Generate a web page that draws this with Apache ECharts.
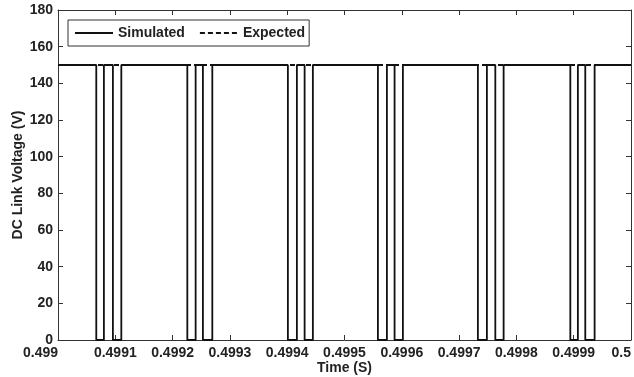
<!DOCTYPE html>
<html>
<head>
<meta charset="utf-8">
<script src="https://cdn.jsdelivr.net/npm/echarts@6/dist/echarts.min.js"></script>
<style>
  html, body { margin: 0; padding: 0; background: #fff; }
  #chart { width: 634px; height: 377px; }
</style>
</head>
<body>
<div id="chart"></div>
<script>
// time window and levels
const tStart = 0.499;
const tEnd = 0.5;
const vHigh = 150;
const vLow = 0;
const expectedLevel = 150;

// switching dips (seconds)
const dipStarts = [
  0.4990668, 0.4990958,
  0.4992257, 0.4992529,
  0.4994012, 0.4994304,
  0.4995583, 0.4995874,
  0.4997328, 0.4997632,
  0.4998941, 0.4999202,
];
const dipEnds = [
  0.4990801, 0.4991105,
  0.4992402, 0.4992693,
  0.4994169, 0.4994448,
  0.4995740, 0.4996019,
  0.4997485, 0.4997777,
  0.4999073, 0.4999365,
];

const yTicks = [0, 20, 40, 60, 80, 100, 120, 140, 160, 180];

// step trace built from the edges
const simulated = [[tStart, vHigh]];
dipStarts.forEach((s, i) => {
  simulated.push([s, vHigh], [s, vLow], [dipEnds[i], vLow], [dipEnds[i], vHigh]);
});
simulated.push([tEnd, vHigh]);

const expected = [[tStart, expectedLevel], [tEnd, expectedLevel]];

const font = "Liberation Sans, Arial, sans-serif";
const txt = { fontFamily: font, fontSize: 14, fontWeight: "bold", color: "#222" };
const chart = echarts.init(document.getElementById("chart"));

const fmtX = (v) => parseFloat(v.toFixed(4)).toString();

const baseX = {
  type: "value",
  min: tStart,
  max: tEnd,
  interval: 0.0001,
  axisLine: { show: true, onZero: false, lineStyle: { color: "#333", width: 1 } },
  axisTick: { show: true, inside: true, length: 5, lineStyle: { color: "#333" } },
  splitLine: { show: false },
};
const baseY = {
  type: "value",
  min: yTicks[0],
  max: yTicks[yTicks.length - 1],
  interval: 20,
  axisLine: { show: true, onZero: false, lineStyle: { color: "#333", width: 1 } },
  axisTick: { show: true, inside: true, length: 5, lineStyle: { color: "#333" } },
  splitLine: { show: false },
};

chart.setOption({
  animation: false,
  backgroundColor: "#fff",
  grid: { left: 58, right: 3, top: 10, bottom: 37, outerBoundsMode: "none", containLabel: false },
  legend: {
    left: 68,
    top: 20,
    itemWidth: 38,
    itemHeight: 2,
    itemGap: 14,
    padding: [6, 4, 6, 6],
    borderColor: "#333",
    borderWidth: 1,
    backgroundColor: "#fff",
    textStyle: txt,
    data: ["Simulated", "Expected"],
  },
  xAxis: [
    Object.assign({}, baseX, {
      position: "bottom",
      name: "Time (S)",
      nameLocation: "middle",
      nameGap: 21,
      nameMoveOverlap: false,
      nameTextStyle: txt,
      axisLabel: Object.assign({}, txt, {
        margin: 6, formatter: fmtX, showMinLabel: true, showMaxLabel: true,
        alignMinLabel: "right", alignMaxLabel: "right",
      }),
    }),
    Object.assign({}, baseX, { position: "top", axisLabel: { show: false } }),
  ],
  yAxis: [
    Object.assign({}, baseY, {
      position: "left",
      name: "DC Link Voltage (V)",
      nameLocation: "middle",
      nameGap: 33,
      nameMoveOverlap: false,
      nameTextStyle: txt,
      axisLabel: Object.assign({}, txt, { margin: 5 }),
    }),
    Object.assign({}, baseY, { position: "right", axisLabel: { show: false } }),
  ],
  series: [
    {
      name: "Simulated",
      type: "line",
      xAxisIndex: 0,
      yAxisIndex: 0,
      data: simulated,
      symbol: "none",
      lineStyle: { color: "#111", width: 1.8, type: "solid" },
      itemStyle: { color: "#111" },
    },
    {
      name: "Expected",
      type: "line",
      xAxisIndex: 0,
      yAxisIndex: 0,
      data: expected,
      symbol: "none",
      lineStyle: { color: "#111", width: 1.8, type: [5, 3] },
      itemStyle: { color: "#111" },
    },
  ],
});
</script>
</body>
</html>
